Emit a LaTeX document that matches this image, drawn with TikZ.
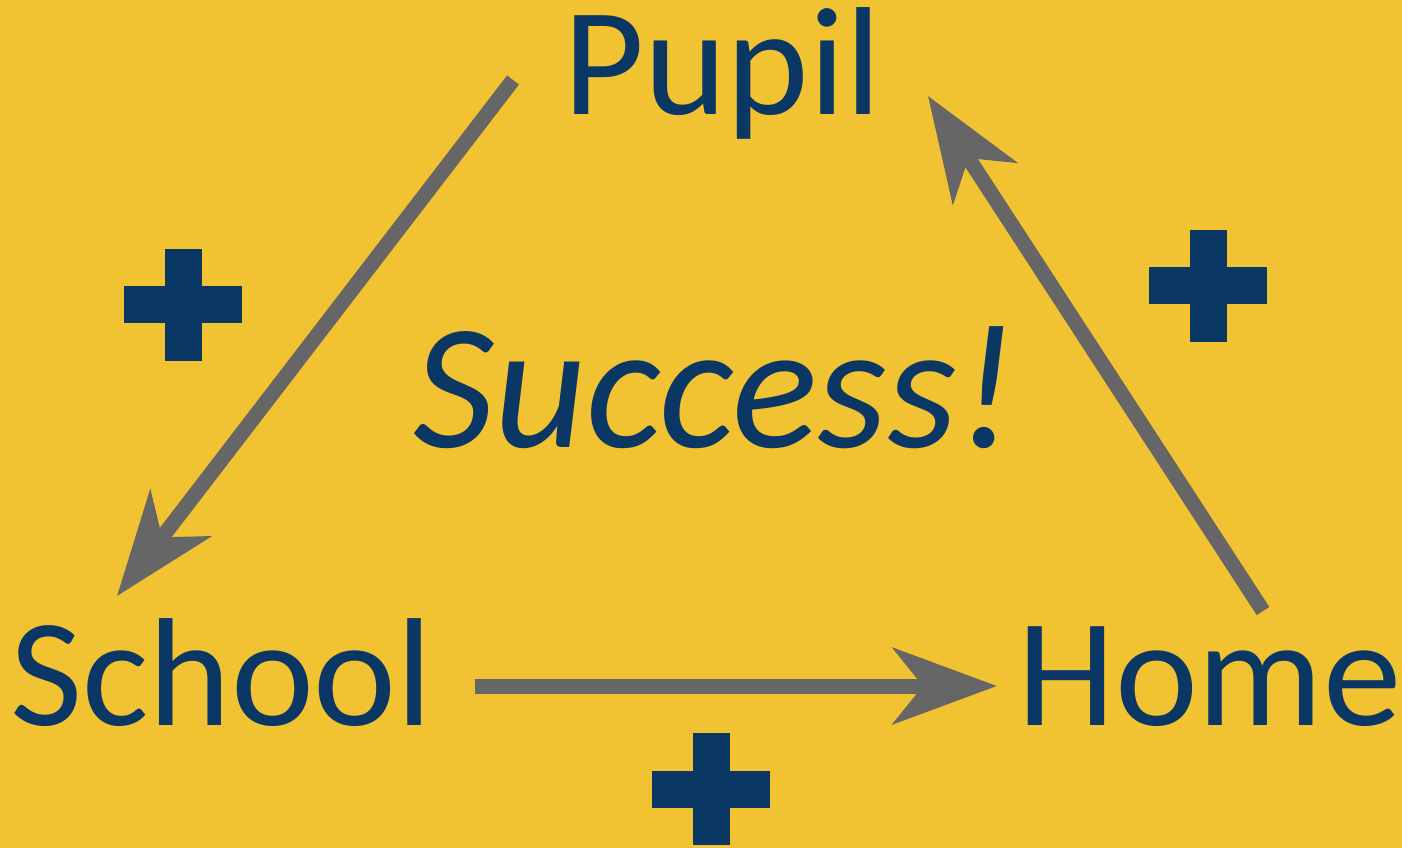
\documentclass[tikz,border=0pt]{standalone}
\usepackage{fontspec}
\setmainfont{Carlito}
\newfontfamily\widefont[FakeStretch=1.02]{Carlito}
\usetikzlibrary{arrows.meta}
\definecolor{bgyellow}{HTML}{F1C232}
\definecolor{navy}{HTML}{0A3764}
\definecolor{arrowgray}{HTML}{666666}
\tikzset{
  word/.style={text=navy, inner sep=0pt, anchor=base west, font=\widefont\fontsize{154}{154}\selectfont},
  bigword/.style={text=navy, inner sep=0pt, anchor=base west, font=\fontsize{179}{179}\selectfont\itshape},
  link/.style={draw=arrowgray, line width=15pt, -{Stealth[length=104pt, width=76pt, inset=30pt]}},
  pics/plusmark/.style={code={
    \fill[navy] (-59,-18.5) rectangle (59,18.5);
    \fill[navy] (-18.5,-56) rectangle (18.5,56);
  }}
}
\begin{document}
\begin{tikzpicture}[x=1pt, y=-1pt]
\fill[bgyellow] (0,0) rectangle (1402,848);
\useasboundingbox (0,0) rectangle (1402,848);
\node[word] (pupil) at (563,115) {Pupil};
\node[word] (school) at (10,725) {School};
\node[word] (home) at (1017,725) {Home};
\node[bigword] (success) at (413,447) {Success!};
\coordinate (a1s) at (513,80);
\coordinate (a1e) at (117,596);
\coordinate (a2s) at (475,686);
\coordinate (a2e) at (997,686);
\coordinate (a3s) at (1263,611);
\coordinate (a3e) at (928,96);
\draw[link] (a1s) -- (a1e);
\draw[link] (a2s) -- (a2e);
\draw[link] (a3s) -- (a3e);
\pic at (183,304.5) {plusmark};
\pic at (1208,285.5) {plusmark};
\pic at (711,789) {plusmark};
\end{tikzpicture}
\end{document}
